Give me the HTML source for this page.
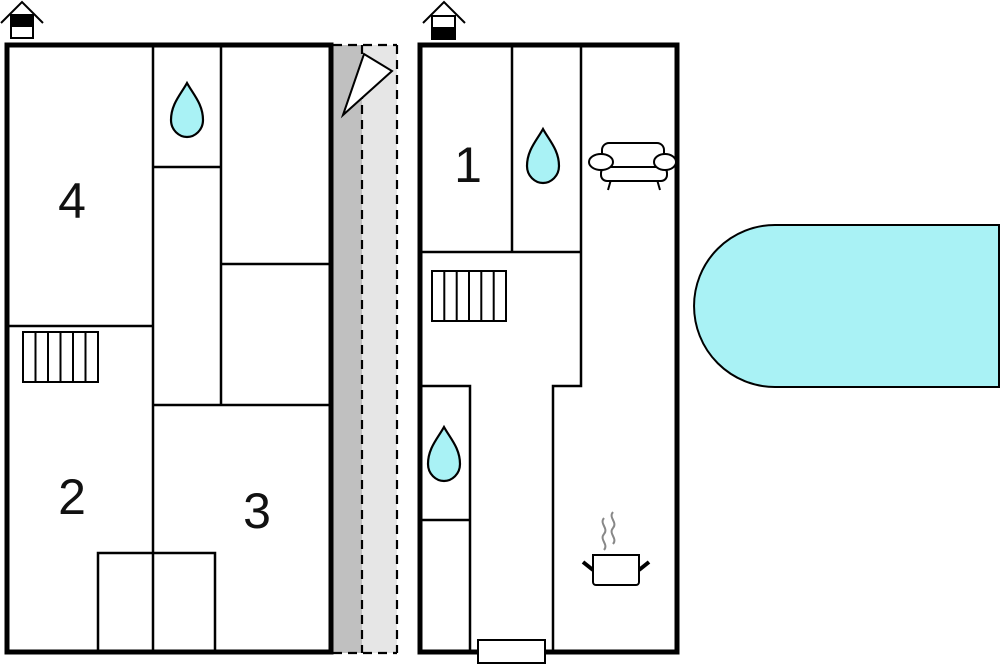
<!DOCTYPE html>
<html><head><style>html,body{margin:0;padding:0;background:#fff}svg{display:block}</style></head>
<body>
<svg width="1000" height="665" viewBox="0 0 1000 665" xmlns="http://www.w3.org/2000/svg">
<defs>
<path id="drop" d="M0,-27 C6,-16 16,-6 16,10 C16,20 8,27 0,27 C-8,27 -16,20 -16,10 C-16,-6 -6,-16 0,-27 Z" fill="#a9f2f5" stroke="#000" stroke-width="2.2"/>
</defs>
<!-- gray strip -->
<rect x="333" y="45" width="29" height="608" fill="#c0c0c0"/>
<rect x="362" y="45" width="35" height="608" fill="#e6e6e6"/>
<g stroke="#000" stroke-width="2.2" stroke-dasharray="9,6" fill="none">
<line x1="362" y1="45" x2="362" y2="653"/>
<line x1="397" y1="45" x2="397" y2="653"/>
<line x1="333" y1="45" x2="397" y2="45"/>
<line x1="333" y1="653" x2="397" y2="653"/>
</g>
<polygon points="343,115 364,54 392,71" fill="#fff" stroke="#000" stroke-width="2"/>
<!-- house icons -->
<g stroke="#000" stroke-width="2" fill="none">
<polyline points="1,23 22,2 43,23"/>
<rect x="11" y="15" width="22" height="23" fill="#fff"/>
<rect x="11" y="15" width="22" height="11" fill="#000"/>
<polyline points="423,23 444,2 465,23"/>
<rect x="432" y="16" width="23" height="23" fill="#fff"/>
<rect x="432" y="28" width="23" height="11" fill="#000"/>
</g>
<!-- left building -->
<rect x="7" y="45" width="324" height="607" fill="none" stroke="#000" stroke-width="5"/>
<g stroke="#000" stroke-width="2.5" fill="none">
<line x1="153" y1="45" x2="153" y2="652"/>
<line x1="221" y1="45" x2="221" y2="405"/>
<line x1="153" y1="167" x2="221" y2="167"/>
<line x1="221" y1="264" x2="331" y2="264"/>
<line x1="7" y1="326" x2="153" y2="326"/>
<line x1="153" y1="405" x2="331" y2="405"/>
<polyline points="98,652 98,553 215,553 215,652"/>
</g>
<g stroke="#000" stroke-width="2" fill="none">
<rect x="23" y="332" width="75" height="50"/>
<line x1="35.5" y1="332" x2="35.5" y2="382"/><line x1="48" y1="332" x2="48" y2="382"/><line x1="60.5" y1="332" x2="60.5" y2="382"/><line x1="73" y1="332" x2="73" y2="382"/><line x1="85.5" y1="332" x2="85.5" y2="382"/>
<rect x="432" y="271" width="74" height="50"/>
<line x1="444.3" y1="271" x2="444.3" y2="321"/><line x1="456.7" y1="271" x2="456.7" y2="321"/><line x1="469" y1="271" x2="469" y2="321"/><line x1="481.3" y1="271" x2="481.3" y2="321"/><line x1="493.7" y1="271" x2="493.7" y2="321"/>
</g>
<use href="#drop" x="187" y="110"/>
<use href="#drop" x="543" y="156"/>
<use href="#drop" x="444" y="454"/>
<g font-family="Liberation Sans, sans-serif" font-size="50" fill="#111" text-anchor="middle">
<text x="72" y="218">4</text>
<text x="72" y="514">2</text>
<text x="257" y="528">3</text>
<text x="468" y="182">1</text>
</g>
<!-- right building -->
<rect x="420" y="45" width="257" height="607" fill="none" stroke="#000" stroke-width="5"/>
<g stroke="#000" stroke-width="2.5" fill="none">
<line x1="512" y1="45" x2="512" y2="252"/>
<polyline points="581,45 581,386 553,386 553,652"/>
<line x1="420" y1="252" x2="581" y2="252"/>
<polyline points="420,386 470,386 470,652"/>
<line x1="420" y1="520" x2="470" y2="520"/>
</g>
<rect x="478" y="640" width="67" height="23" fill="#fff" stroke="#000" stroke-width="2"/>
<!-- sofa -->
<g stroke="#000" stroke-width="2" fill="#fff">
<line x1="612" y1="176" x2="608" y2="190"/><line x1="656" y1="176" x2="660" y2="190"/>
<rect x="601" y="167" width="66" height="14" rx="6"/>
<rect x="602" y="143" width="62" height="24" rx="7"/>
<ellipse cx="601" cy="162" rx="12" ry="8"/>
<ellipse cx="665" cy="162" rx="11" ry="8"/>
</g>
<!-- pot -->
<g>
<path d="M604,518 c-5,6 5,10 0,16 c-5,6 5,10 0,16" stroke="#888" stroke-width="2" fill="none"/>
<path d="M613,512 c-5,6 5,10 0,16 c-5,6 5,10 0,16" stroke="#888" stroke-width="2" fill="none"/>
<line x1="583" y1="562" x2="593" y2="570" stroke="#000" stroke-width="4"/>
<line x1="649" y1="562" x2="639" y2="570" stroke="#000" stroke-width="4"/>
<path d="M593,555 H639 V582 a3,3 0 0 1 -3,3 H596 a3,3 0 0 1 -3,-3 Z" fill="#fff" stroke="#000" stroke-width="2"/>
</g>
<!-- pool -->
<path d="M775,225 H999 V387 H775 A81,81 0 0 1 775,225 Z" fill="#a9f2f5" stroke="#000" stroke-width="2"/>
</svg>
</body></html>
